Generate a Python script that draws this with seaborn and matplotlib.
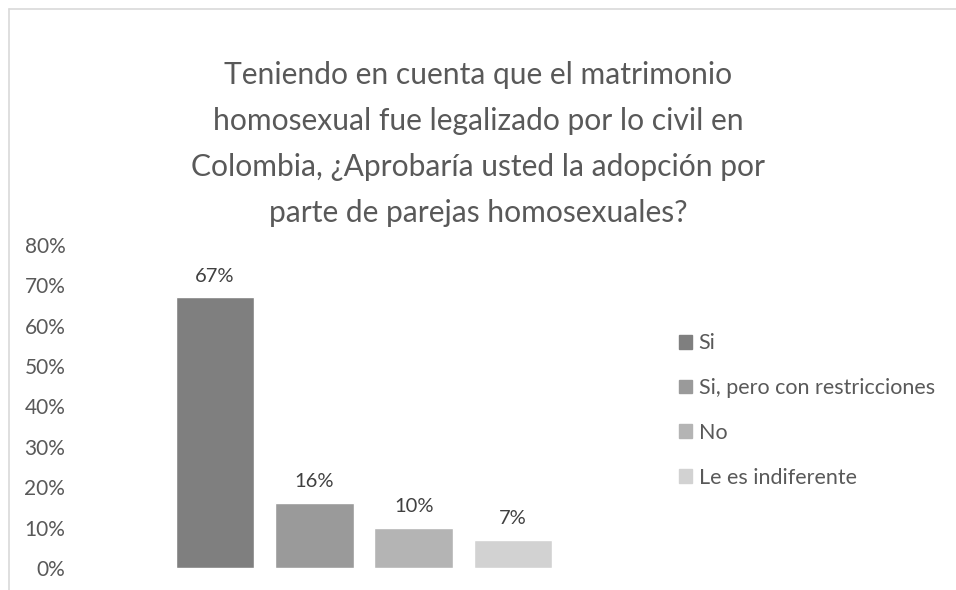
import matplotlib
matplotlib.use("Agg")
import matplotlib.pyplot as plt
import seaborn as sns
from matplotlib.lines import Line2D
from matplotlib.ticker import PercentFormatter

categorias = ["Si", "Si, pero con restricciones", "No", "Le es indiferente"]
valores = [0.67, 0.16, 0.10, 0.07]
etiquetas = ["67%", "16%", "10%", "7%"]
colores = ["#7f7f7f", "#9a9a9a", "#b4b4b4", "#d2d2d2"]
titulo = ("Teniendo en cuenta que el matrimonio\nhomosexual fue legalizado por lo civil en\n"
          "Colombia, ¿Aprobaría usted la adopción por\nparte de parejas homosexuales?")

sns.set_style("white")
plt.rcParams['font.family'] = ['Lato', 'DejaVu Sans']

fig = plt.figure(figsize=(9.56, 5.9), dpi=100)
ax = fig.add_axes([75/956, 1-568/590, (653-75)/956, (568-245)/590])

sns.barplot(x=categorias, y=valores, hue=categorias, palette=colores,
            width=0.79, dodge=False, legend=False, ax=ax, saturation=1)

for i, v in enumerate(valores):
    ax.text(i, v + 0.032, etiquetas[i], ha='center', va='bottom', fontsize=14.5, color='#404040')

ax.set_xlim(-1.41, 4.41)
ax.set_ylim(0, 0.8)
ax.set_yticks([i/10 for i in range(9)])
ax.yaxis.set_major_formatter(PercentFormatter(1.0, decimals=0))
ax.tick_params(axis='y', labelsize=15, labelcolor='#595959', length=0, pad=7)
ax.set_xticks([])
ax.set_xlabel("")
ax.set_ylabel("")
for s in ax.spines.values():
    s.set_visible(False)

handles = [plt.Rectangle((0, 0), 1, 1, color=c) for c in colores]
fig.legend(handles, categorias, loc='upper left', bbox_to_anchor=(660/956, 1-314/590),
           frameon=False, fontsize=15.5, labelcolor='#595959', handlelength=0.6,
           handleheight=0.6, handletextpad=0.3, labelspacing=1.15)

fig.text(478/956, 1-144/590, titulo, ha='center', va='center', fontsize=21.6,
         color='#595959', linespacing=1.78)

fig.add_artist(Line2D([8.5/956, 1], [1-8.5/590, 1-8.5/590], color='#d9d9d9', lw=1.2))
fig.add_artist(Line2D([8.5/956, 8.5/956], [0, 1-8.5/590], color='#d9d9d9', lw=1.2))

fig.savefig("out.png", dpi=100, facecolor='white')
